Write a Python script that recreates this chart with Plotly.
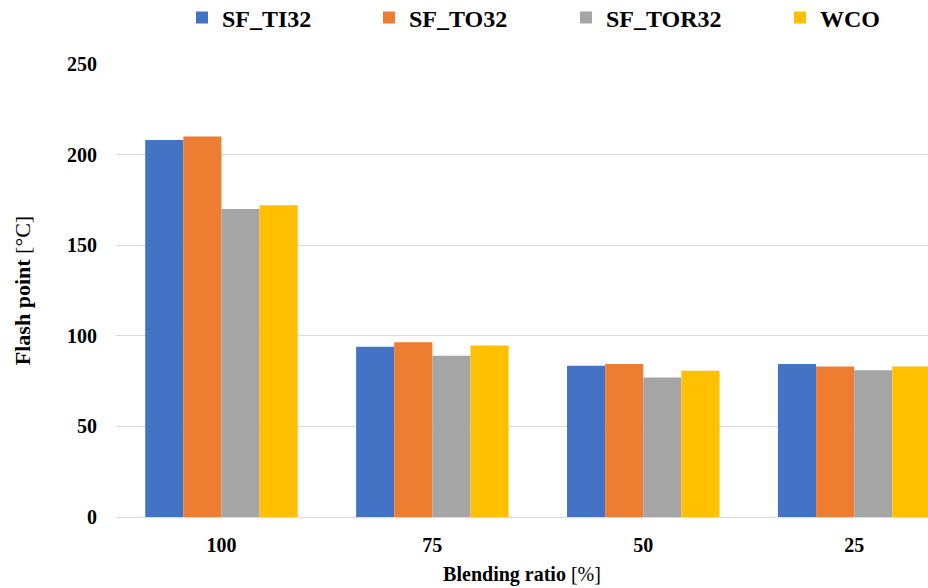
import plotly.graph_objects as go

categories = ["100", "75", "50", "25"]
series_names = ["SF_TI32", "SF_TO32", "SF_TOR32", "WCO"]
sf_ti32 = [208, 94, 83.5, 84.5]
sf_to32 = [210, 96.5, 84.5, 83]
sf_tor32 = [170, 89, 77, 81]
wco = [172, 94.7, 80.7, 83]
y_ticks = [0, 50, 100, 150, 200, 250]

colors = ["#4472C4", "#ED7D31", "#A5A5A5", "#FFC000"]
values = [sf_ti32, sf_to32, sf_tor32, wco]
legend_ids = ["legend", "legend2", "legend3", "legend4"]

FONT = "Liberation Serif"

fig = go.Figure()
for name, vals, col, lg in zip(series_names, values, colors, legend_ids):
    fig.add_trace(go.Bar(x=categories, y=vals, name=name, marker=dict(color=col, line=dict(width=0)),
                         legend=lg))

plot_left = 116
pw = 928 - plot_left
text_starts = [222, 409, 606, 820]
legend_common = dict(orientation="h", yanchor="middle", y=1.1015, xanchor="left",
                     font=dict(family=FONT, size=24, color="#000000", weight="bold"),
                     bgcolor="rgba(0,0,0,0)", itemwidth=30, tracegroupgap=0)
legends = {}
for lg, ts in zip(legend_ids, text_starts):
    d = dict(legend_common)
    d["x"] = (ts - 40 - plot_left) / pw
    legends[lg] = d

fig.update_layout(
    width=928, height=588,
    margin=dict(l=116, r=0, t=64, b=71, pad=0, autoexpand=False),
    plot_bgcolor="white", paper_bgcolor="white",
    barmode="group", bargap=0.277, bargroupgap=0,
    font=dict(family=FONT, size=20, color="#000000"),
    showlegend=True,
    **legends,
)
fig.update_xaxes(
    range=[-0.5, 3.35], showgrid=False, showline=True, linecolor="#D9D9D9", linewidth=1,
    tickfont=dict(family=FONT, size=20, color="#000000", weight="bold"), ticks="", ticklabelstandoff=10,
    title=dict(text="<b>Blending ratio</b> [%]", font=dict(family=FONT, size=20, color="#000000"), standoff=11),
    automargin=False,
)
fig.update_yaxes(
    range=[0, 250], tickvals=y_ticks, showgrid=True, gridcolor="#D9D9D9", gridwidth=1,
    zeroline=False, showline=False,
    tickfont=dict(family=FONT, size=20, color="#000000", weight="bold"), ticks="", ticklabelstandoff=18,
    title=dict(text="<b>Flash point</b> [°C]", font=dict(family=FONT, size=22, color="#000000"), standoff=30),
    automargin=False,
)

fig.write_html("out.html", config={"displayModeBar": False},
               post_script="document.body.style.margin='0';")
